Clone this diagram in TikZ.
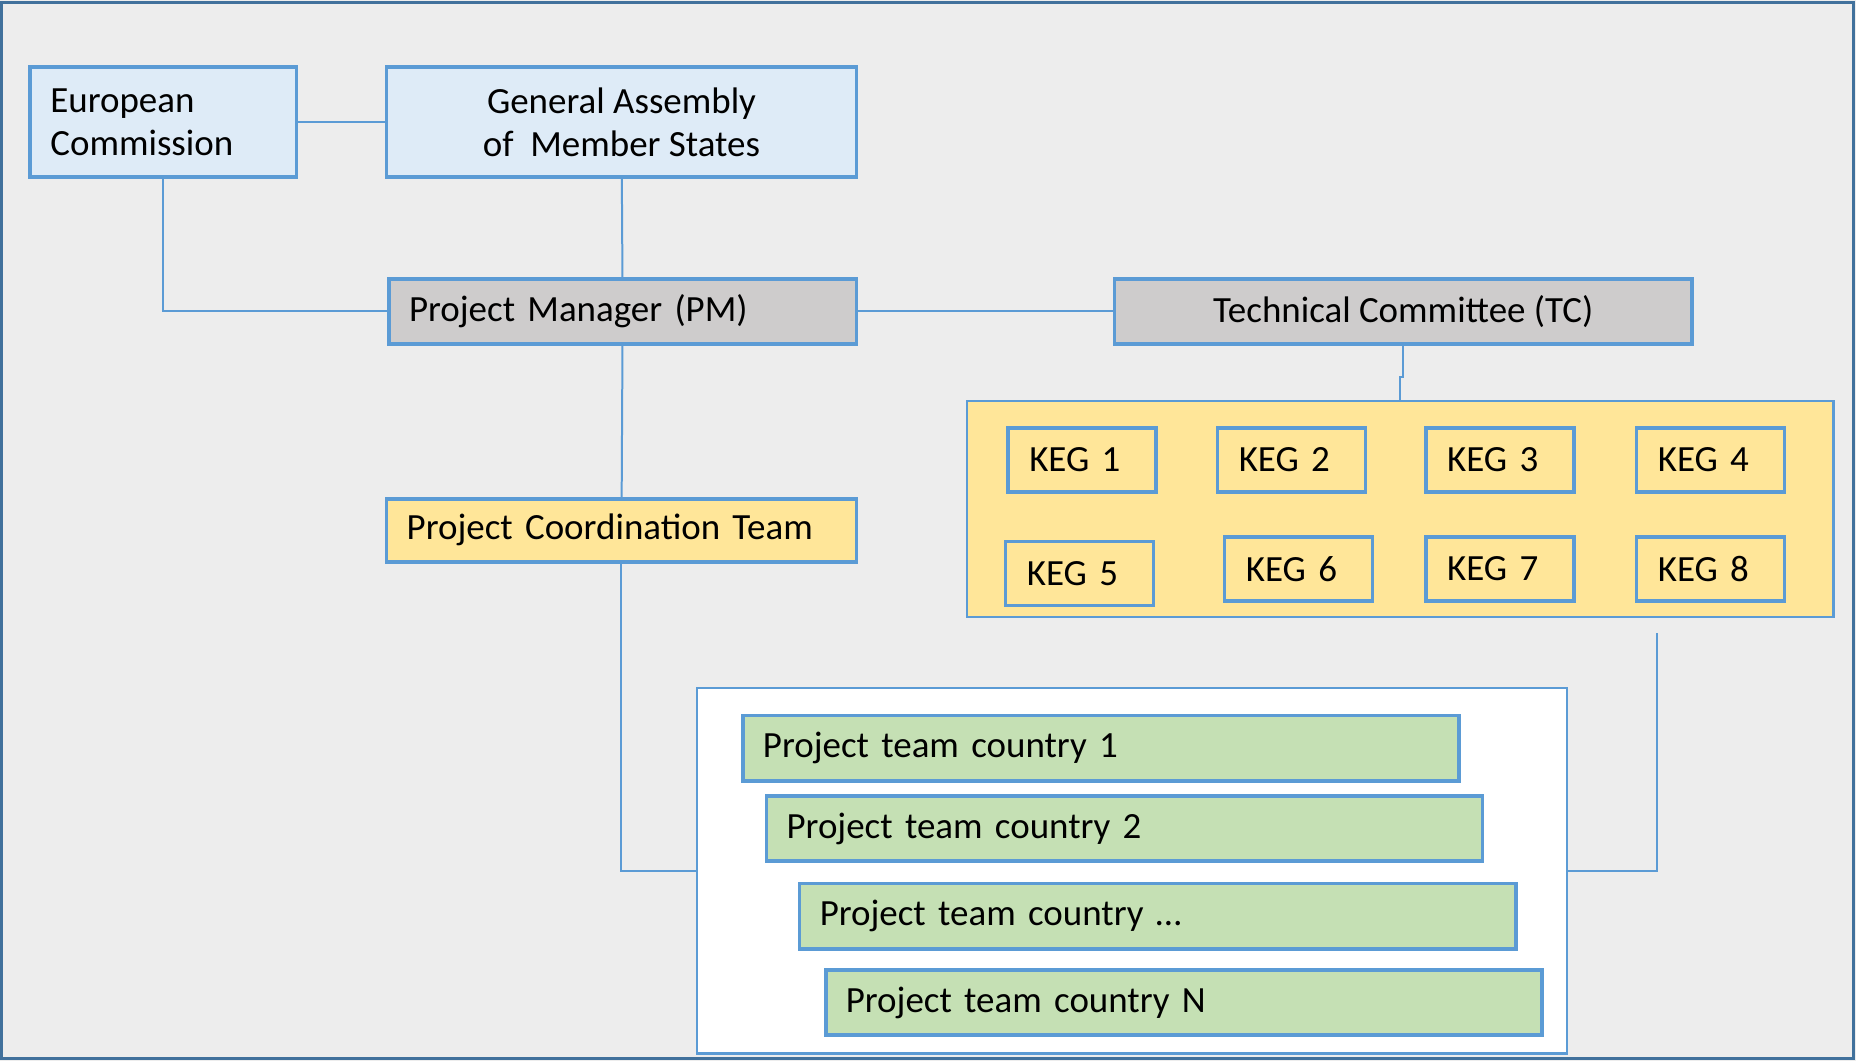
\documentclass[tikz,border=0pt]{standalone}
\usepackage{fontspec}
\setmainfont{Carlito}
\usetikzlibrary{positioning,calc}

\definecolor{framebg}{HTML}{EDEDED}
\definecolor{framedraw}{HTML}{41719C}
\definecolor{boxdraw}{HTML}{5B9BD5}
\definecolor{bluefill}{HTML}{DEEBF7}
\definecolor{grayfill}{HTML}{CECCCC}
\definecolor{yellowfill}{HTML}{FFE699}
\definecolor{greenfill}{HTML}{C5E0B4}

% one unit of the layout grid
\newcommand{\px}{0.0125cm}

\begin{document}
\begin{tikzpicture}[x=\px,y=-\px]
  % background and frame
  \fill [framebg] (0,0) rectangle (1568,896);
  \useasboundingbox (0,0) rectangle (1568,896);
  \draw [framedraw,line width=0.8pt] (1,2) rectangle (1566,894);

  \begin{scope}[
    container/.style={
      rectangle,
      draw=boxdraw,
      line width=0.7pt,
      inner sep=0pt,
      anchor=north west,
    },
    ]
    % KEG group
    \node [container,fill=yellowfill,minimum width=732*\px,minimum height=182*\px] (KEGs) at (816,338) {};
    % country teams group
    \node [container,fill=white,minimum width=735*\px,minimum height=309*\px] (Teams) at (588,580) {};
  \end{scope}

  \begin{scope}[
    every node/.style={
      rectangle,
      draw=boxdraw,
      line width=1.1pt,
      inner ysep=0pt,
      anchor=north west,
      font=\fontsize{11.1}{13}\selectfont,
    },
    leftbox/.style={
      inner xsep=17*\px,
      text width=#1*\px-34*\px,
      align=left,
    },
    midbox/.style={
      inner xsep=0pt,
      minimum width=#1*\px,
      align=center,
    },
    kegbox/.style={
      fill=yellowfill,
      minimum height=54*\px,
      inner xsep=18*\px,
      text width=89*\px,
      align=left,
    },
    teambox/.style={
      fill=greenfill,
      minimum height=55*\px,
      leftbox=605,
    },
    ]
    % EC
    \node [leftbox=225,fill=bluefill,minimum height=93*\px] (EC) at (24,55)
    {European\\Commission};

    % GA
    \node [midbox=397,fill=bluefill,minimum height=93*\px] (GA) at (325,55)
    {General Assembly\\of\ \ Member States};

    % PM
    \node [leftbox=395,fill=grayfill,minimum height=55*\px] (PM) at (327,234)
    {Project Manager (PM)};

    % TC
    \node [midbox=488,fill=grayfill,minimum height=55*\px] (TC) at (940,234)
    {Technical Committee (TC)};

    % PCT
    \node [leftbox=397,fill=yellowfill,minimum height=53*\px] (PCT) at (325,420)
    {Project Coordination Team};

    % KEG 1-4
    \node [kegbox] (KEG1) at (850,360) {KEG 1};
    \node [kegbox] (KEG2) at (1027,360) {KEG 2};
    \node [kegbox] (KEG3) at (1203,360) {KEG 3};
    \node [kegbox] (KEG4) at (1381,360) {KEG 4};

    % KEG 5-8
    \node [kegbox] (KEG5) at (848,456) {KEG 5};
    \node [kegbox] (KEG6) at (1033,452) {KEG 6};
    \node [kegbox] (KEG7) at (1203,452) {KEG 7};
    \node [kegbox] (KEG8) at (1381,452) {KEG 8};

    % country teams
    \node [teambox] (T1) at (626,603) {Project team country 1};
    \node [teambox] (T2) at (646,671) {Project team country 2};
    \node [teambox] (T3) at (674,745) {Project team country …};
    \node [teambox] (TN) at (696,818) {Project team country N};
  \end{scope}

  \begin{scope}[
    mylink/.style={
      draw=boxdraw,
      line width=0.6pt,
    },
    ]
    \coordinate (KEGtail) at (1400,535);

    % Path EC
    \draw [mylink] (EC) -- (GA);
    \draw [mylink] (EC) |- (PM);

    % Path GA
    \draw [mylink] (GA) -- (PM);

    % Path PM
    \draw [mylink] (PM) -- (TC);
    \draw [mylink] (PM) -- (PCT);

    % Path TC
    \draw [mylink] (TC.south) -- ++(0,26) -| (KEGs.north);

    % Path PCT
    \draw [mylink] (PCT) |- (Teams);

    % Path KEGs
    \draw [mylink] (KEGtail) |- (Teams);
  \end{scope}
\end{tikzpicture}
\end{document}
